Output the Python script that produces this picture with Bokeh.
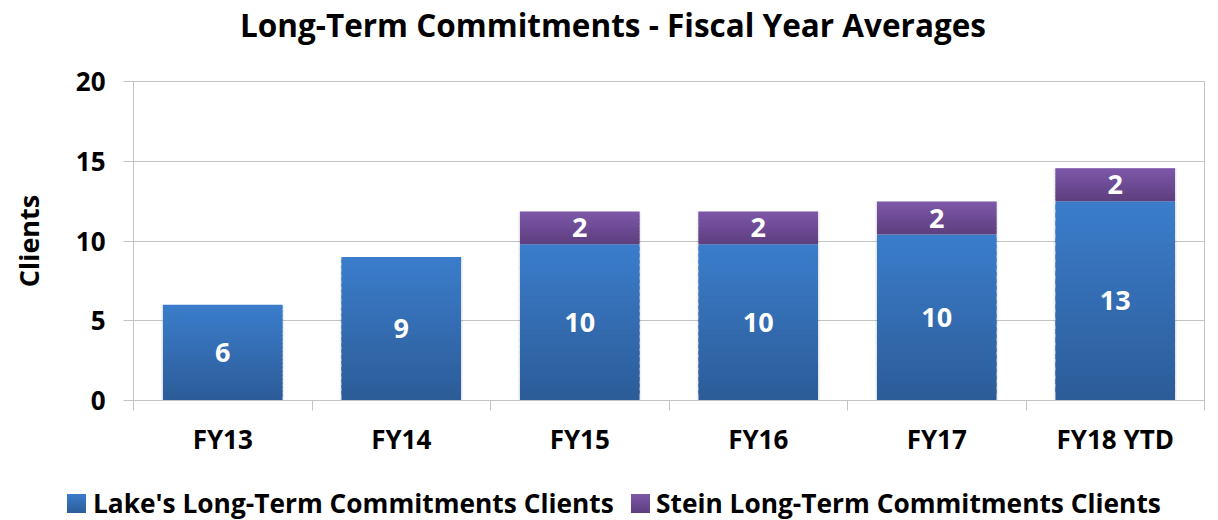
from bokeh.plotting import figure
from bokeh.models import ColumnDataSource, FixedTicker, LabelSet, Range1d, Div
from bokeh.layouts import column
from bokeh.core.properties import value
from bokeh.embed import file_html
from bokeh.resources import INLINE

categories = ["FY13", "FY14", "FY15", "FY16", "FY17", "FY18 YTD"]
lake = [6.0, 9.0, 9.8, 9.8, 10.4, 12.5]
stein = [0.0, 0.0, 2.05, 2.05, 2.07, 2.06]
lake_labels = ["6", "9", "10", "10", "10", "13"]
stein_labels = ["", "", "2", "2", "2", "2"]
y_ticks = [0, 5, 10, 15, 20]
title_text = "Long-Term Commitments - Fiscal Year Averages"
series_names = ["Lake's Long-Term Commitments Clients", "Stein Long-Term Commitments Clients"]

FONT = "Open Sans"
BLUE_TOP, BLUE_BOT = (0x3b, 0x7d, 0xcb), (0x2c, 0x5c, 0x98)
PURP_TOP, PURP_BOT = (0x7e, 0x58, 0xa9), (0x5d, 0x3e, 0x7e)
GRID = "#c3c3c3"
N = 24
W = 1218


def hexc(c):
    return "#%02x%02x%02x" % tuple(int(round(v)) for v in c)


def mix(a, b, t):
    return tuple(a[i] + (b[i] - a[i]) * t for i in range(3))


xs = [i + 0.5 for i in range(len(categories))]
totals = [a + b for a, b in zip(lake, stein)]


def gradient_source(bottoms, tops, ctop, cbot):
    d = dict(x=[], b=[], t=[], c=[])
    for x, b0, t0 in zip(xs, bottoms, tops):
        if t0 <= b0:
            continue
        for k in range(N):
            d["x"].append(x)
            d["b"].append(b0 + (t0 - b0) * k / N)
            d["t"].append(b0 + (t0 - b0) * min(k + 1.6, N) / N)
            frac = (k + 0.5) / N  # 0 bottom -> 1 top
            d["c"].append(hexc(mix(cbot, ctop, frac)))
    return ColumnDataSource(d)


# ---- title ----
title_div = Div(width=W, height=50, margin=0, text=(
    f'<div style="position:relative;width:{W}px;height:50px;">'
    f'<div style="position:absolute;left:240px;top:0;height:50px;line-height:50px;white-space:nowrap;'
    f'font-family:\'{FONT}\';font-weight:bold;font-size:31.5px;color:black;">{title_text}</div></div>'))

# ---- chart ----
p = figure(frame_width=1071, frame_height=319, output_backend="svg", toolbar_location=None,
           title=None,
           x_range=Range1d(0, len(categories)), y_range=Range1d(0, 20),
           min_border_left=133, min_border_right=14, min_border_top=31, min_border_bottom=65)

# soft shadow behind bars
p.vbar(x=xs, top=totals, bottom=0, width=0.69, fill_color="#000000", fill_alpha=0.06, line_color=None)

s1 = gradient_source([0] * len(lake), lake, BLUE_TOP, BLUE_BOT)
s2 = gradient_source(lake, totals, PURP_TOP, PURP_BOT)
p.vbar(x="x", top="t", bottom="b", width=0.67, source=s1, fill_color="c", line_color=None)
p.vbar(x="x", top="t", bottom="b", width=0.67, source=s2, fill_color="c", line_color=None)

lab = ColumnDataSource(dict(
    x=xs,
    lake_mid=[v / 2 for v in lake],
    stein_mid=[a + b / 2 for a, b in zip(lake, stein)],
    lake_lab=lake_labels, stein_lab=stein_labels,
))
for ycol, tcol in (("lake_mid", "lake_lab"), ("stein_mid", "stein_lab")):
    p.add_layout(LabelSet(x="x", y=ycol, text=tcol, source=lab, text_align="center",
                          text_baseline="middle", text_color="white", text_font=value(FONT),
                          text_font_size="27px", text_font_style="bold"))

# axes
p.xaxis.ticker = FixedTicker(ticks=xs, minor_ticks=list(range(len(categories) + 1)))
p.xaxis.major_label_overrides = {x: c for x, c in zip(xs, categories)}
p.xaxis.major_tick_out = 0
p.xaxis.major_tick_in = 0
p.xaxis.minor_tick_out = 10
p.xaxis.minor_tick_in = 0
p.xaxis.minor_tick_line_color = GRID
p.xaxis.axis_line_color = GRID
p.xaxis.major_label_text_font = FONT
p.xaxis.major_label_text_font_size = "26px"
p.xaxis.major_label_text_font_style = "bold"
p.xaxis.major_label_text_color = "black"
p.xaxis.major_label_standoff = 10

p.yaxis.ticker = FixedTicker(ticks=y_ticks, minor_ticks=[])
p.yaxis.axis_line_color = GRID
p.yaxis.major_tick_line_color = GRID
p.yaxis.major_tick_out = 10
p.yaxis.major_tick_in = 0
p.yaxis.major_label_text_font = FONT
p.yaxis.major_label_text_font_size = "26px"
p.yaxis.major_label_text_font_style = "bold"
p.yaxis.major_label_text_color = "black"
p.yaxis.major_label_standoff = 18
p.yaxis.axis_label = "Clients"
p.yaxis.axis_label_text_font = FONT
p.yaxis.axis_label_text_font_size = "27px"
p.yaxis.axis_label_text_font_style = "bold"
p.yaxis.axis_label_text_color = "black"
p.yaxis.axis_label_standoff = 26

p.xgrid.grid_line_color = None
p.ygrid.grid_line_color = GRID
p.ygrid.ticker = FixedTicker(ticks=y_ticks)
p.outline_line_color = GRID

# ---- legend ----
swatches = [(hexc(BLUE_TOP), hexc(BLUE_BOT)), (hexc(PURP_TOP), hexc(PURP_BOT))]
sq_left = [67, 631]
txt_left = [93, 656]
items = ""
for name, (ct, cb), sl, tl in zip(series_names, swatches, sq_left, txt_left):
    items += (f'<div style="position:absolute;left:{sl}px;top:29px;width:19px;height:19px;'
              f'background:linear-gradient({ct},{cb});"></div>'
              f'<div style="position:absolute;left:{tl}px;top:29px;height:19px;line-height:19px;'
              f'white-space:nowrap;font-family:\'{FONT}\';font-weight:bold;font-size:26.3px;'
              f'color:black;">{name}</div>')
legend_div = Div(width=W, height=55, margin=0,
                 text=f'<div style="position:relative;width:{W}px;height:55px;">{items}</div>')

page = column(title_div, p, legend_div, spacing=0)

open("out.html", "w").write(file_html(page, INLINE))
